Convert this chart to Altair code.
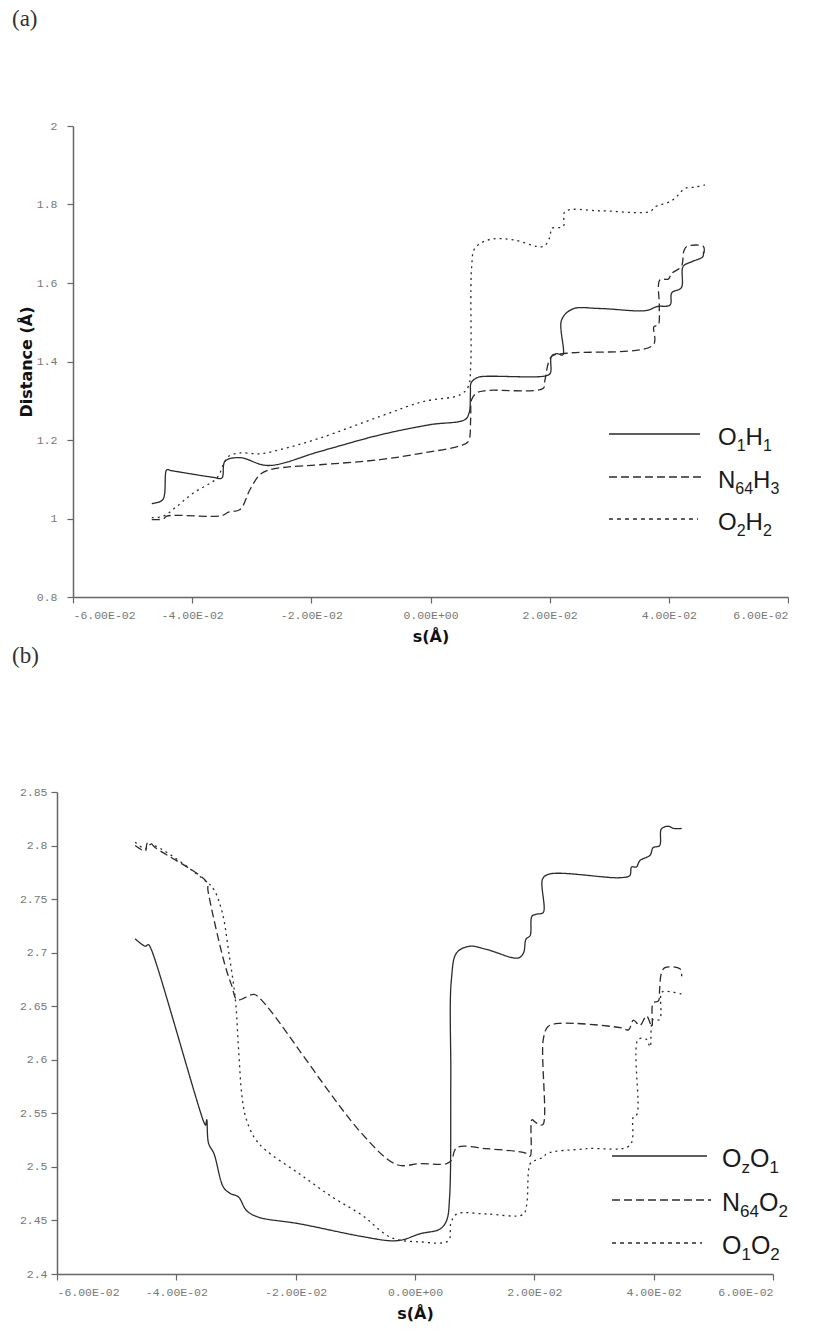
import altair as alt
import pandas as pd

# ---------------- data: panel (a) ----------------
a_series = ["O1H1", "N64H3", "O2H2"]
a_O1H1_s = [-0.04678, -0.04493, -0.04426, -0.0435, -0.0365, -0.03503, -0.03448, -0.03196, -0.02727, -0.01854,
            -0.00847, -0.0001, 0.00579, 0.0065, 0.0067, 0.0068, 0.0075, 0.0083, 0.0192, 0.0201, 0.0203, 0.0212,
            0.0222, 0.0220, 0.0239, 0.0284, 0.0363, 0.0380, 0.0402, 0.0405, 0.0421, 0.0424, 0.0438, 0.0457, 0.0458]
a_O1H1_d = [1.038, 1.048, 1.124, 1.122, 1.105, 1.103, 1.146, 1.155, 1.135, 1.171,
            1.213, 1.239, 1.252, 1.27, 1.32, 1.345, 1.356, 1.361, 1.363, 1.37, 1.413, 1.42,
            1.417, 1.506, 1.534, 1.535, 1.530, 1.540, 1.544, 1.575, 1.588, 1.642, 1.654, 1.667, 1.680]
a_N64H3_s = [-0.04678, -0.04483, -0.04426, -0.03503, -0.03393, -0.03196, -0.03029, -0.02861, -0.02727, -0.02413,
             -0.01854, -0.00847, -0.00121, 0.00495, 0.00634, 0.00674, 0.00691, 0.00775, 0.00943, 0.01893, 0.01921,
             0.02034, 0.02285, 0.03738, 0.0375, 0.03822, 0.0384, 0.0385, 0.0399, 0.0405, 0.0421, 0.0425, 0.0430,
             0.0458, 0.0459]
a_N64H3_d = [0.997, 0.999, 1.006, 1.007, 1.016, 1.023, 1.074, 1.112, 1.123, 1.131,
             1.137, 1.150, 1.167, 1.185, 1.196, 1.252, 1.303, 1.320, 1.326, 1.332, 1.353,
             1.413, 1.421, 1.442, 1.489, 1.493, 1.540, 1.608, 1.610, 1.625, 1.642, 1.680, 1.693,
             1.693, 1.676]
a_O2H2_s = [-0.04678, -0.04483, -0.04258, -0.0398, -0.03587, -0.03477, -0.03393, -0.03196, -0.02861, -0.02413,
            -0.01854, -0.00847, -0.00121, 0.00495, 0.00634, 0.00674, 0.00691, 0.00747, 0.00998, 0.0139, 0.01893,
            0.02005, 0.02034, 0.02228, 0.02257, 0.02844, 0.03683, 0.03767, 0.04019, 0.04131, 0.0427, 0.04438,
            0.04606]
a_O2H2_d = [1.002, 1.006, 1.031, 1.065, 1.103, 1.137, 1.158, 1.167, 1.165, 1.180,
            1.205, 1.260, 1.298, 1.315, 1.336, 1.387, 1.642, 1.689, 1.711, 1.710, 1.693,
            1.718, 1.739, 1.744, 1.782, 1.784, 1.782, 1.794, 1.807, 1.820, 1.841, 1.844,
            1.850]

# ---------------- data: panel (b) ----------------
b_series = ["OzO1", "N64O2", "O1O2"]
b_OzO1_s = [-0.0469, -0.0452, -0.0447, -0.0442, -0.0354, -0.0351, -0.0349, -0.0346, -0.0337, -0.0321, -0.0309,
            -0.0296, -0.0282, -0.0262, -0.0195, -0.0089, -0.004, -0.002, 0.0008, 0.0042, 0.0053, 0.0058, 0.0060,
            0.0061, 0.0070, 0.0092, 0.0120, 0.0173, 0.0182, 0.0186, 0.0193, 0.0196, 0.0204, 0.0215, 0.0214,
            0.0226, 0.0344, 0.0360, 0.0363, 0.0371, 0.0377, 0.0394, 0.0399, 0.0410, 0.0413, 0.0425, 0.0433, 0.0447]
b_OzO1_d = [2.713, 2.706, 2.7075, 2.703, 2.542, 2.539, 2.544, 2.522, 2.5125, 2.481, 2.475,
            2.472, 2.459, 2.453, 2.447, 2.435, 2.431, 2.432, 2.4375, 2.442, 2.45, 2.472, 2.581,
            2.675, 2.70, 2.706, 2.703, 2.695, 2.70, 2.7125, 2.716, 2.734, 2.736, 2.7375, 2.769,
            2.7735, 2.770, 2.772, 2.78, 2.78, 2.786, 2.791, 2.798, 2.80, 2.8155, 2.818, 2.816, 2.816]
b_N64O2_s = [-0.0469, -0.0452, -0.0449, -0.0444, -0.0435, -0.0349, -0.0347, -0.0337, -0.0318, -0.0307, -0.0298,
             -0.0270, -0.0256, -0.0089, -0.003, 0.0008, 0.0053, 0.0061, 0.0070, 0.0120, 0.0187, 0.0193, 0.0196,
             0.0201, 0.0210, 0.0215, 0.0215, 0.0223, 0.0243, 0.0344, 0.0358, 0.0366, 0.0377, 0.0388, 0.0397,
             0.0399, 0.0408, 0.0410, 0.0413, 0.0419, 0.0444, 0.0447]
b_N64O2_d = [2.80, 2.795, 2.802, 2.8025, 2.798, 2.766, 2.758, 2.731, 2.6875, 2.669, 2.656,
             2.661, 2.655, 2.531, 2.502, 2.503, 2.503, 2.506, 2.518, 2.517, 2.5125, 2.51, 2.544,
             2.542, 2.539, 2.54, 2.619, 2.631, 2.634, 2.63, 2.628, 2.637, 2.632, 2.641, 2.631,
             2.653, 2.655, 2.666, 2.681, 2.686, 2.685, 2.678]
b_O1O2_s = [-0.0469, -0.0452, -0.0444, -0.0349, -0.0337, -0.0323, -0.0312, -0.0301, -0.0296, -0.0290, -0.0284,
            -0.0270, -0.0251, -0.0195, -0.0139, -0.0089, -0.004, 0.0008, 0.0056, 0.0060, 0.0070, 0.0120, 0.0181,
            0.0187, 0.0193, 0.0201, 0.0215, 0.0221, 0.0288, 0.0360, 0.0366, 0.0372, 0.0374, 0.0388, 0.0394,
            0.0399, 0.0410, 0.0413, 0.0419, 0.0450]
b_O1O2_d = [2.803, 2.797, 2.801, 2.766, 2.759, 2.7375, 2.70, 2.656, 2.6125, 2.566, 2.547,
            2.528, 2.516, 2.494, 2.472, 2.455, 2.434, 2.43, 2.431, 2.447, 2.456, 2.456, 2.4555,
            2.464, 2.503, 2.506, 2.509, 2.5125, 2.517, 2.520, 2.547, 2.549, 2.619, 2.619, 2.612,
            2.6375, 2.6375, 2.6625, 2.664, 2.661]

x_ticks = [-0.06, -0.04, -0.02, 0.0, 0.02, 0.04, 0.06]
x_tick_labels = ["-6.00E-02", "-4.00E-02", "-2.00E-02", "0.00E+00", "2.00E-02", "4.00E-02", "6.00E-02"]
a_y_ticks = [0.8, 1.0, 1.2, 1.4, 1.6, 1.8, 2.0]
b_y_ticks = [2.4, 2.45, 2.5, 2.55, 2.6, 2.65, 2.7, 2.75, 2.8, 2.85]


def frame(names, xs, ys):
    rows = []
    for name, sx, sy in zip(names, xs, ys):
        for i, (u, v) in enumerate(zip(sx, sy)):
            rows.append({"series": name, "s": u, "d": v, "i": i})
    return pd.DataFrame(rows)


df_a = frame(a_series, [a_O1H1_s, a_N64H3_s, a_O2H2_s], [a_O1H1_d, a_N64H3_d, a_O2H2_d])
df_b = frame(b_series, [b_OzO1_s, b_N64O2_s, b_O1O2_s], [b_OzO1_d, b_N64O2_d, b_O1O2_d])

INK = "#2b2b2b"
AXIS_GREY = "#666666"
LABEL_FONT = "Liberation Mono"
TITLE_FONT = "DejaVu Sans"
LEG_FONT = "Liberation Sans"
DASHES_A = [[1, 0], [8, 4], [2, 4]]
DASHES_B = [[1, 0], [10, 5], [2, 4]]
LEG_DASHES = [[1, 0], [8, 4], [4, 4]]

label_expr = "[" + ",".join("'%s'" % t for t in x_tick_labels) + "][round((datum.value + 0.06) / 0.02)]"


def x_axis():
    return alt.Axis(values=x_ticks, labelExpr=label_expr, title="s(Å)", grid=False,
                    labelFont=LABEL_FONT, labelFontSize=11.5, labelColor="#777777",
                    tickColor=AXIS_GREY, domainColor=AXIS_GREY, domainWidth=1.5, tickWidth=1.2, tickSize=6,
                    labelPadding=6, titleFont=TITLE_FONT, titleFontSize=16, titleFontWeight="bold",
                    titleColor="#111111", titlePadding=8)


def y_axis(vals, fmt, title, pad, offset):
    kw = dict(values=vals, format=fmt, grid=False, labelFont=LABEL_FONT, labelFontSize=11.5,
              labelColor="#777777", tickColor=AXIS_GREY, domainColor=AXIS_GREY, domainWidth=1.5,
              tickWidth=1.2, tickSize=6, labelPadding=pad, offset=offset)
    if title:
        kw.update(title=title, titleFont=TITLE_FONT, titleFontSize=16, titleFontWeight="bold",
                  titleColor="#111111", titlePadding=2)
    else:
        kw.update(title=None)
    return alt.Axis(**kw)


one = pd.DataFrame({"k": [0]})
W = {"O": 0.778, "H": 0.722, "N": 0.722, "z": 0.5}
for ch in "0123456789":
    W[ch] = 0.556


def legend_layers(entries, x_line0, x_line1s, ys, x_text, big, small, sub_drop):
    layers = []
    for (parts, dash, x1, y) in zip(entries, LEG_DASHES, x_line1s, ys):
        layers.append(alt.Chart(one).mark_rule(color=INK, strokeWidth=1.3, strokeDash=dash).encode(
            x=alt.value(x_line0), x2=alt.value(x1), y=alt.value(y)))
        x = x_text
        base = y + 11
        for txt, sub in parts:
            size = small if sub else big
            layers.append(alt.Chart(one).mark_text(text=txt, font=LEG_FONT, fontSize=size, align="left",
                                                   baseline="alphabetic", color="#1a1a1a").encode(
                x=alt.value(x), y=alt.value(base + (sub_drop if sub else 0))))
            x += sum(W[c] for c in txt) * size
    return layers


def panel(df, names, dashes, ydom, yvals, yfmt, ytitle, ypad, lead, w, h, title, toff, legend):
    # 'lead' = empty band left of the plot inside this panel (used to shift panel (a) right)
    lines = alt.Chart(df).mark_line(strokeWidth=1.3, color=INK, interpolate="catmull-rom").encode(
        x=alt.X("s:Q", scale=alt.Scale(domain=[-0.06, 0.06], nice=False, range=[lead, lead + w]),
                axis=x_axis()),
        y=alt.Y("d:Q", scale=alt.Scale(domain=ydom, nice=False, zero=False),
                axis=y_axis(yvals, yfmt, ytitle, ypad, -lead)),
        strokeDash=alt.StrokeDash("series:N", scale=alt.Scale(domain=names, range=dashes), legend=None),
        detail="series:N",
        order="i:Q",
    )
    return alt.layer(lines, *legend).properties(
        width=lead + w, height=h,
        title=alt.TitleParams(title, anchor="start", frame="group", font="Liberation Serif", fontSize=23,
                              fontWeight="normal", color="#333333", offset=toff, dx=-45))


LEAD_A = 16
leg_a = legend_layers(
    [[("O", False), ("1", True), ("H", False), ("1", True)],
     [("N", False), ("64", True), ("H", False), ("3", True)],
     [("O", False), ("2", True), ("H", False), ("2", True)]],
    LEAD_A + 536, [LEAD_A + 627, LEAD_A + 632, LEAD_A + 625], [308, 351, 393], LEAD_A + 645, 24, 16, 6)

leg_b = legend_layers(
    [[("O", False), ("z", True), ("O", False), ("1", True)],
     [("N", False), ("64", True), ("O", False), ("2", True)],
     [("O", False), ("1", True), ("O", False), ("2", True)]],
    555, [650, 654, 645], [364, 408, 451], 665, 25, 17, 6)

chart_a = panel(df_a, a_series, DASHES_A, [0.8, 2.0], a_y_ticks, ".1~f", "Distance (Å)", 10, LEAD_A, 715, 471,
                "(a)", 89, leg_a)
chart_b = panel(df_b, b_series, DASHES_B, [2.4, 2.85], b_y_ticks, ".2~f", None, 4, 0, 716, 482,
                "(b)", 118, leg_b)

chart = alt.concat(chart_a, chart_b, columns=1, spacing=0).properties(
    padding={"left": 4, "top": 0, "right": 0, "bottom": 0}
).configure(background="white").configure_view(strokeWidth=0, stroke="transparent")

chart.save("out.html", embed_options={"renderer": "svg", "actions": False})
